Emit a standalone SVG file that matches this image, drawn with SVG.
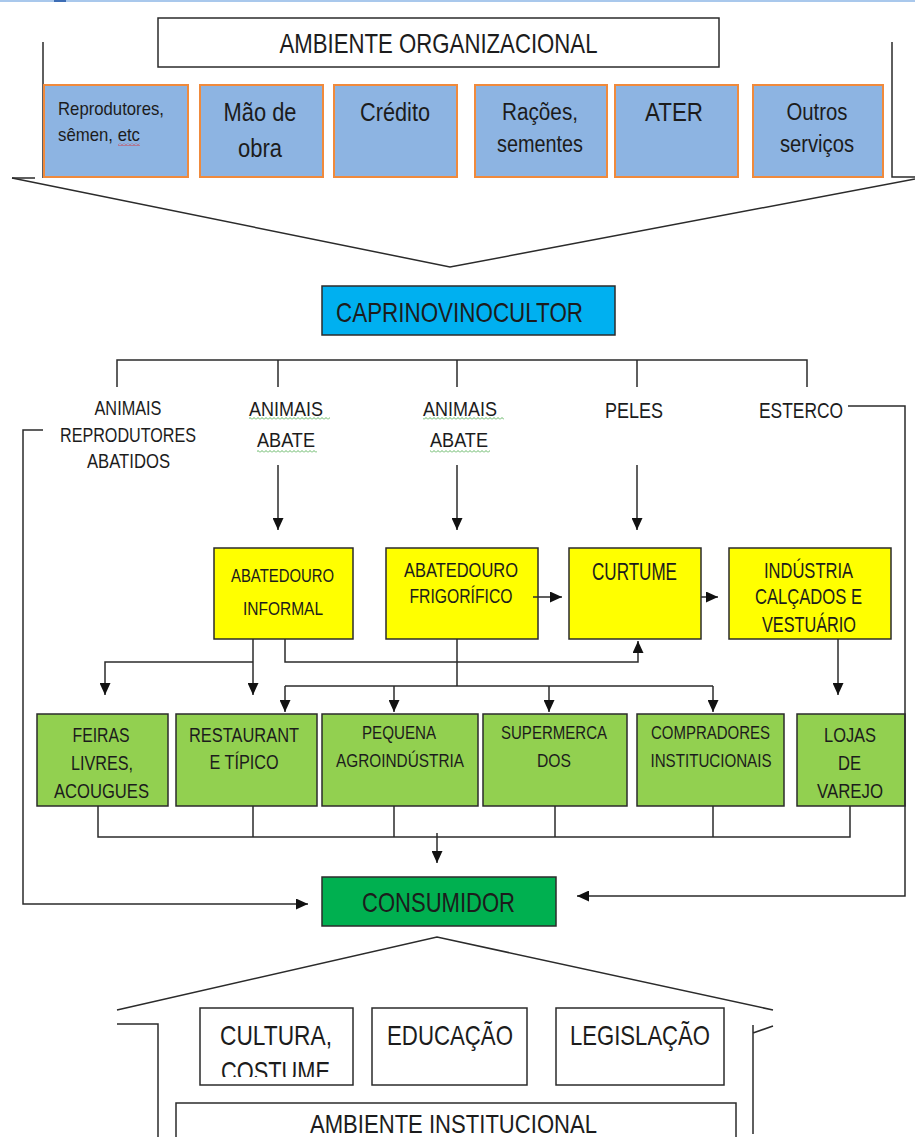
<svg xmlns="http://www.w3.org/2000/svg" width="915" height="1137" viewBox="0 0 915 1137">
<style>
.t{font-family:"Liberation Sans",Arial,sans-serif;fill:#1c1c1c;text-anchor:middle}
.ln{fill:none;stroke:#2b2b2b;stroke-width:1.5}
.blue{fill:#8DB4E2;stroke:#F08A3C;stroke-width:2}
.yel{fill:#FFFF00;stroke:#2b2b2b;stroke-width:1.5}
.grn{fill:#92D050;stroke:#2b2b2b;stroke-width:1.5}
.wht{fill:#fff;stroke:#2b2b2b;stroke-width:1.5}
</style>
<defs>
<marker id="ah" markerUnits="userSpaceOnUse" markerWidth="12" markerHeight="11" refX="12" refY="5.5" orient="auto">
<path d="M0,0 L12,5.5 L0,11 z" fill="#111"/>
</marker>
<pattern id="wg" width="4" height="3" patternUnits="userSpaceOnUse"><path d="M0,2.5 L2,0.5 L4,2.5" fill="none" stroke="#3aa23a" stroke-width="0.8"/></pattern>
<pattern id="wr" width="4" height="3" patternUnits="userSpaceOnUse"><path d="M0,2.5 L2,0.5 L4,2.5" fill="none" stroke="#e02020" stroke-width="0.8"/></pattern>
<clipPath id="cc"><rect x="200" y="1008" width="153" height="69"/></clipPath>
</defs>
<rect width="915" height="1137" fill="#fff"/>
<rect x="0" y="0" width="915" height="2" fill="#A9C8EC"/>
<rect x="54" y="0" width="12" height="2" fill="#3D6DB5"/>

<g id="frame-top">
<path class="ln" d="M43,42 V178 M12,178 H35 M892,42 V177 H915"/>
<polyline class="ln" points="12,178 450,267 915,179"/>
</g>

<g id="ambiente-organizacional">
<rect class="wht" x="158" y="18" width="561" height="49"/>
<text class="t" x="438.5" y="53" font-size="28" textLength="318" lengthAdjust="spacingAndGlyphs">AMBIENTE ORGANIZACIONAL</text>
</g>
<g id="reprodutores">
<rect class="blue" x="44" y="85" width="144" height="92"/>
<text class="t" x="58" y="115" font-size="19" style="text-anchor:start" textLength="106" lengthAdjust="spacingAndGlyphs">Reprodutores,</text>
<text class="t" x="58" y="141" font-size="19" style="text-anchor:start" textLength="82" lengthAdjust="spacingAndGlyphs">sêmen, etc</text>
</g>
<g id="mao-de-obra">
<rect class="blue" x="200" y="85" width="123" height="92"/>
<text class="t" x="260" y="121" font-size="25" textLength="73" lengthAdjust="spacingAndGlyphs">Mão de</text>
<text class="t" x="260" y="157" font-size="25" textLength="44" lengthAdjust="spacingAndGlyphs">obra</text>
</g>
<g id="credito">
<rect class="blue" x="334" y="85" width="123" height="92"/>
<text class="t" x="395" y="121" font-size="25" textLength="70" lengthAdjust="spacingAndGlyphs">Crédito</text>
</g>
<g id="racoes">
<rect class="blue" x="475" y="85" width="132" height="92"/>
<text class="t" x="540" y="120" font-size="23" textLength="76" lengthAdjust="spacingAndGlyphs">Rações,</text>
<text class="t" x="540" y="152" font-size="23" textLength="86" lengthAdjust="spacingAndGlyphs">sementes</text>
</g>
<g id="ater">
<rect class="blue" x="615" y="85" width="123" height="92"/>
<text class="t" x="674" y="121" font-size="25" textLength="58" lengthAdjust="spacingAndGlyphs">ATER</text>
</g>
<g id="outros">
<rect class="blue" x="753" y="85" width="130" height="92"/>
<text class="t" x="817" y="120" font-size="23" textLength="61" lengthAdjust="spacingAndGlyphs">Outros</text>
<text class="t" x="817" y="152" font-size="23" textLength="74" lengthAdjust="spacingAndGlyphs">serviços</text>
</g>

<g id="caprinovinocultor">
<rect x="322" y="286" width="293" height="49" fill="#00B0F0" stroke="#2b2b2b" stroke-width="1.5"/>
<text class="t" x="459.5" y="322" font-size="28" textLength="247" lengthAdjust="spacingAndGlyphs">CAPRINOVINOCULTOR</text>
</g>

<g id="lbl-reprodutores-abatidos">
<text class="t" x="128" y="415" font-size="20" textLength="67" lengthAdjust="spacingAndGlyphs">ANIMAIS</text>
<text class="t" x="128" y="442" font-size="20" textLength="136" lengthAdjust="spacingAndGlyphs">REPRODUTORES</text>
<text class="t" x="128.5" y="468" font-size="20" textLength="83" lengthAdjust="spacingAndGlyphs">ABATIDOS</text>
</g>
<g id="lbl-animais-abate-1">
<text class="t" x="286" y="416" font-size="21" textLength="74" lengthAdjust="spacingAndGlyphs">ANIMAIS</text>
<text class="t" x="286" y="447" font-size="21" textLength="58" lengthAdjust="spacingAndGlyphs">ABATE</text>
</g>
<g id="lbl-animais-abate-2">
<text class="t" x="460" y="416" font-size="21" textLength="74" lengthAdjust="spacingAndGlyphs">ANIMAIS</text>
<text class="t" x="459" y="447" font-size="21" textLength="58" lengthAdjust="spacingAndGlyphs">ABATE</text>
</g>
<g id="lbl-peles">
<text class="t" x="634" y="418" font-size="22" textLength="58" lengthAdjust="spacingAndGlyphs">PELES</text>
</g>
<g id="lbl-esterco">
<text class="t" x="801" y="418" font-size="22" textLength="84" lengthAdjust="spacingAndGlyphs">ESTERCO</text>
</g>

<g id="spellcheck-marks">
<rect x="118" y="143" width="22" height="3" fill="url(#wr)"/>
<rect x="249" y="417" width="81" height="3" fill="url(#wg)"/>
<rect x="257" y="450" width="60" height="3" fill="url(#wg)"/>
<rect x="423" y="417" width="81" height="3" fill="url(#wg)"/>
<rect x="430" y="450" width="60" height="3" fill="url(#wg)"/>
<rect x="764" y="579" width="94" height="3" fill="url(#wg)"/>
<rect x="755" y="606" width="93" height="3" fill="url(#wg)"/>
</g>

<g id="abatedouro-informal">
<rect class="yel" x="214" y="548" width="139" height="91"/>
<text class="t" x="282.5" y="582" font-size="18.5" textLength="103" lengthAdjust="spacingAndGlyphs">ABATEDOURO</text>
<text class="t" x="283" y="615" font-size="18.5" textLength="80" lengthAdjust="spacingAndGlyphs">INFORMAL</text>
</g>
<g id="abatedouro-frigorifico">
<rect class="yel" x="386" y="548" width="152" height="91"/>
<text class="t" x="461" y="577" font-size="21" textLength="114" lengthAdjust="spacingAndGlyphs">ABATEDOURO</text>
<text class="t" x="461" y="603" font-size="21" textLength="103" lengthAdjust="spacingAndGlyphs">FRIGORÍFICO</text>
</g>
<g id="curtume">
<rect class="yel" x="569" y="548" width="132" height="91"/>
<text class="t" x="634.5" y="580" font-size="23" textLength="85" lengthAdjust="spacingAndGlyphs">CURTUME</text>
</g>
<g id="industria">
<rect class="yel" x="729" y="548" width="162" height="91"/>
<text class="t" x="808.5" y="578" font-size="22" textLength="89" lengthAdjust="spacingAndGlyphs">INDÚSTRIA</text>
<text class="t" x="808.5" y="604" font-size="22" textLength="107" lengthAdjust="spacingAndGlyphs">CALÇADOS E</text>
<text class="t" x="809" y="632" font-size="22" textLength="94" lengthAdjust="spacingAndGlyphs">VESTUÁRIO</text>
</g>

<g id="feiras">
<rect class="grn" x="37" y="714" width="131" height="92"/>
<text class="t" x="101" y="742" font-size="19.5" textLength="57" lengthAdjust="spacingAndGlyphs">FEIRAS</text>
<text class="t" x="102" y="770" font-size="19.5" textLength="62" lengthAdjust="spacingAndGlyphs">LIVRES,</text>
<text class="t" x="101.5" y="798" font-size="19.5" textLength="95" lengthAdjust="spacingAndGlyphs">ACOUGUES</text>
</g>
<g id="restaurante">
<rect class="grn" x="176" y="714" width="141" height="92"/>
<text class="t" x="244" y="742" font-size="20.5" textLength="110" lengthAdjust="spacingAndGlyphs">RESTAURANT</text>
<text class="t" x="244" y="769" font-size="20.5" textLength="69" lengthAdjust="spacingAndGlyphs">E TÍPICO</text>
</g>
<g id="pequena-agroindustria">
<rect class="grn" x="322" y="714" width="156" height="92"/>
<text class="t" x="399" y="739" font-size="18.5" textLength="74" lengthAdjust="spacingAndGlyphs">PEQUENA</text>
<text class="t" x="400" y="767" font-size="18.5" textLength="128" lengthAdjust="spacingAndGlyphs">AGROINDÚSTRIA</text>
</g>
<g id="supermercados">
<rect class="grn" x="483" y="714" width="144" height="92"/>
<text class="t" x="554" y="739" font-size="17.5" textLength="106" lengthAdjust="spacingAndGlyphs">SUPERMERCA</text>
<text class="t" x="554" y="767" font-size="17.5" textLength="34" lengthAdjust="spacingAndGlyphs">DOS</text>
</g>
<g id="compradores">
<rect class="grn" x="637" y="714" width="147" height="92"/>
<text class="t" x="710.5" y="739" font-size="17.5" textLength="119" lengthAdjust="spacingAndGlyphs">COMPRADORES</text>
<text class="t" x="711" y="767" font-size="17.5" textLength="121" lengthAdjust="spacingAndGlyphs">INSTITUCIONAIS</text>
</g>
<g id="lojas">
<rect class="grn" x="797" y="714" width="108" height="92"/>
<text class="t" x="850" y="742" font-size="19.5" textLength="52" lengthAdjust="spacingAndGlyphs">LOJAS</text>
<text class="t" x="849.5" y="770" font-size="19.5" textLength="23" lengthAdjust="spacingAndGlyphs">DE</text>
<text class="t" x="850" y="798" font-size="19.5" textLength="66" lengthAdjust="spacingAndGlyphs">VAREJO</text>
</g>

<g id="consumidor">
<rect x="322" y="877" width="234" height="49" fill="#00B050" stroke="#2b2b2b" stroke-width="1.5"/>
<text class="t" x="438.5" y="912" font-size="28" textLength="153" lengthAdjust="spacingAndGlyphs">CONSUMIDOR</text>
</g>

<g id="connectors">
<path class="ln" d="M117,387 V360 H807 V387 M278,360 V387 M457,360 V387 M637,360 V387"/>
<path class="ln" d="M278,465 V530" marker-end="url(#ah)"/>
<path class="ln" d="M457,465 V530" marker-end="url(#ah)"/>
<path class="ln" d="M637,465 V530" marker-end="url(#ah)"/>
<path class="ln" d="M848,406 H905 V896 H577" marker-end="url(#ah)"/>
<path class="ln" d="M43,430 H23 V904 H308" marker-end="url(#ah)"/>
<path class="ln" d="M533,597 H562" marker-end="url(#ah)"/>
<path class="ln" d="M701,597 H718" marker-end="url(#ah)"/>
<path class="ln" d="M253,639 V695" marker-end="url(#ah)"/>
<path class="ln" d="M253,662 H105 V695" marker-end="url(#ah)"/>
<path class="ln" d="M285,639 V662 H638 V641" marker-end="url(#ah)"/>
<path class="ln" d="M457,639 V686 M285,686 H713"/>
<path class="ln" d="M285,686 V712" marker-end="url(#ah)"/>
<path class="ln" d="M394,686 V712" marker-end="url(#ah)"/>
<path class="ln" d="M549,686 V712" marker-end="url(#ah)"/>
<path class="ln" d="M713,686 V712" marker-end="url(#ah)"/>
<path class="ln" d="M838,639 V695" marker-end="url(#ah)"/>
<path class="ln" d="M98,806 V837 H850 V806 M253,806 V837 M394,806 V837 M555,806 V837 M713,806 V837"/>
<path class="ln" d="M437,833 V863" marker-end="url(#ah)"/>
</g>

<g id="frame-bottom">
<polyline class="ln" points="117,1010 437,937 773,1010"/>
<path class="ln" d="M117,1024 H158 V1137 M773,1026 L753,1033 M753,1025 V1134"/>
</g>

<g id="cultura">
<rect class="wht" x="200" y="1008" width="153" height="77"/>
<text class="t" x="276" y="1045" font-size="28" textLength="112" lengthAdjust="spacingAndGlyphs">CULTURA,</text>
<text class="t" x="275.5" y="1081" font-size="28" textLength="109" lengthAdjust="spacingAndGlyphs" clip-path="url(#cc)">COSTUME</text>
</g>
<g id="educacao">
<rect class="wht" x="372" y="1008" width="155" height="77"/>
<text class="t" x="450" y="1045" font-size="28" textLength="126" lengthAdjust="spacingAndGlyphs">EDUCAÇÃO</text>
</g>
<g id="legislacao">
<rect class="wht" x="556" y="1008" width="168" height="77"/>
<text class="t" x="640" y="1045" font-size="28" textLength="140" lengthAdjust="spacingAndGlyphs">LEGISLAÇÃO</text>
</g>
<g id="ambiente-institucional">
<rect class="wht" x="176" y="1103" width="560" height="50"/>
<text class="t" x="453.5" y="1133" font-size="26" textLength="287" lengthAdjust="spacingAndGlyphs">AMBIENTE INSTITUCIONAL</text>
</g>
</svg>
